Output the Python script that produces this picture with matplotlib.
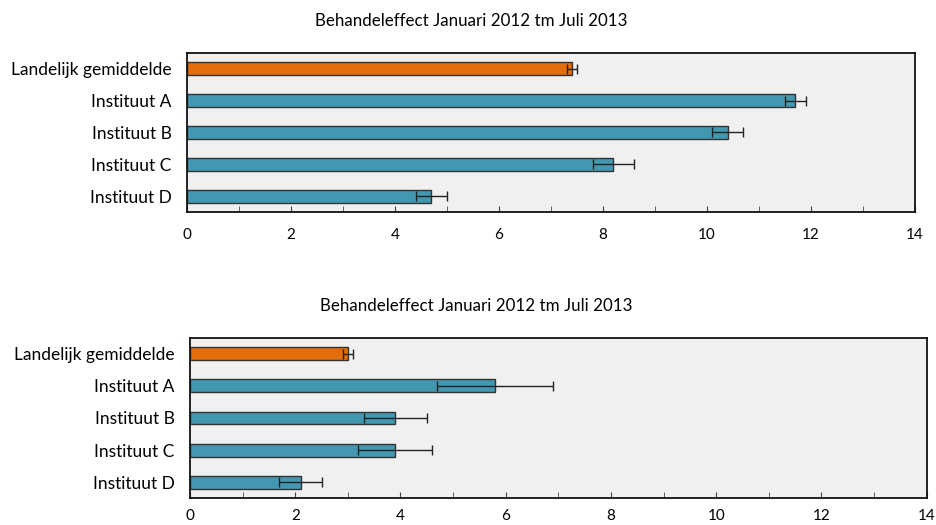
"""
Horizontal bar charts of treatment effect per institute, with error bars.
"""

import matplotlib.pyplot as plt
from matplotlib.ticker import MultipleLocator

plt.rcParams['font.family'] = ['Lato', 'DejaVu Sans']

# Categories, top to bottom
labels = ['Landelijk gemiddelde', 'Instituut A', 'Instituut B', 'Instituut C', 'Instituut D']
title = 'Behandeleffect Januari 2012 tm Juli 2013'

# Upper chart
values_top = [7.4, 11.7, 10.4, 8.2, 4.7]
errors_top = [0.1, 0.2, 0.3, 0.4, 0.3]

# Lower chart
values_bottom = [3.0, 5.8, 3.9, 3.9, 2.1]
errors_bottom = [0.1, 1.1, 0.6, 0.7, 0.4]

orange = '#e46c0a'
teal = '#4397b0'
colors = [orange, teal, teal, teal, teal]

W, H = 936, 525
fig = plt.figure(figsize=(W / 100, H / 100), dpi=100)


def draw(rect, values, errors, title_xy, xpad):
    left, top, right, bottom = rect
    ax = fig.add_axes([left / W, 1 - bottom / H, (right - left) / W, (bottom - top) / H])
    ax.set_facecolor('#f0f0f0')
    pos = list(range(len(labels)))
    ax.barh(pos, values, height=0.4, color=colors, edgecolor='#333333', linewidth=1)
    ax.errorbar(values, pos, xerr=errors, fmt='none', ecolor='#222222',
                elinewidth=1, capsize=3.5, capthick=1)
    ax.set_ylim(len(labels) - 0.5, -0.5)
    ax.set_yticks(pos)
    ax.set_yticklabels(labels, fontsize=12.5)
    ax.tick_params(axis='y', length=0, pad=11)
    ax.set_xlim(0, 14)
    ax.xaxis.set_major_locator(MultipleLocator(2))
    ax.xaxis.set_minor_locator(MultipleLocator(1))
    ax.tick_params(axis='x', which='both', direction='in', length=4,
                   color='#444444', labelsize=11, pad=xpad)
    for s in ax.spines.values():
        s.set_color('#111111')
        s.set_linewidth(1.3)
    fig.text(title_xy[0] / W, 1 - title_xy[1] / H, title, ha='center', va='center', fontsize=12.2)
    return ax


draw((187, 52.7, 915, 212.3), values_top, errors_top, (471, 21), 11)
draw((190, 337.7, 926.7, 498.3), values_bottom, errors_bottom, (476, 306), 8)

fig.savefig('out.png', dpi=100)
